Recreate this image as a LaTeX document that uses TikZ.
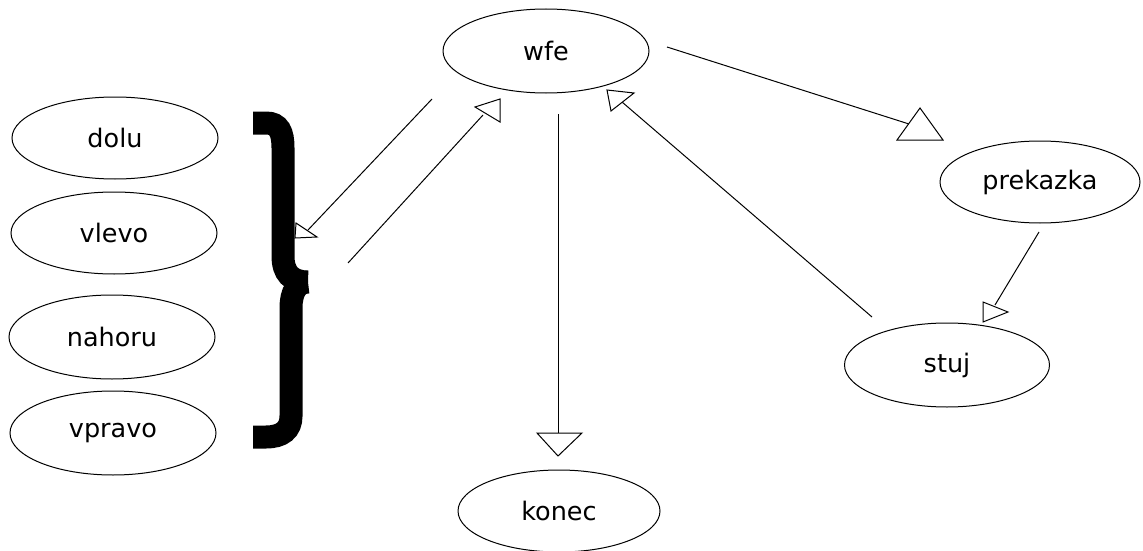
\documentclass[tikz,border=0pt]{standalone}
\usepackage{fontspec}
\setmainfont{DejaVu Sans}
\usetikzlibrary{shapes.geometric}
\begin{document}
\begin{tikzpicture}[x=1pt,y=-1pt,
  state/.style={draw=black,line width=1pt,ellipse,inner sep=0pt,
    font=\fontsize{25.5}{30}\selectfont},
  conn/.style={draw=black,line width=1pt},
  head/.style={draw=black,fill=white,line width=1pt,line join=miter},
  bracepart/.style={draw=black,line width=23pt,line cap=butt}]
\useasboundingbox (0,0) rectangle (1143,551);
\fill[white] (0,0) rectangle (1143,551);

% states
\node[state,minimum width=206pt,minimum height=84pt] (wfe) at (546,51) {wfe};
\node[state,minimum width=206pt,minimum height=82pt] (dolu) at (115,138) {dolu};
\node[state,minimum width=206pt,minimum height=82pt] (vlevo) at (114,233) {vlevo};
\node[state,minimum width=206pt,minimum height=84pt] (nahoru) at (112,337) {nahoru};
\node[state,minimum width=206pt,minimum height=84pt] (vpravo) at (113,433) {vpravo};
\node[state,minimum width=200pt,minimum height=82pt] (prekazka) at (1040,182) {prekazka};
\node[state,minimum width=205pt,minimum height=84pt] (stuj) at (947,365) {stuj};
\node[state,minimum width=202pt,minimum height=82pt] (konec) at (559,511) {konec};

% brace grouping the four direction states
\coordinate (brtip) at (308,282);
\draw[bracepart] (253,123) -- (266,123) .. controls (279,123) and (283,132) .. (283,148)
  -- (283,256) .. controls (283,273) and (291,282) .. (brtip);
\draw[bracepart] (brtip) .. controls (297,282) and (291,292) .. (291,308)
  -- (291,416) .. controls (291,430) and (282,437) .. (266,437) -- (253,437);

% connector end points
\coordinate (c1s) at (432,99);   \coordinate (c1e) at (308,230);
\coordinate (c2s) at (348,263);  \coordinate (c2e) at (483,115);
\coordinate (c3s) at (558,114);  \coordinate (c3e) at (558,433);
\coordinate (c4s) at (872,317);  \coordinate (c4e) at (622,102);
\coordinate (c5s) at (667,47);   \coordinate (c5e) at (909,124);
\coordinate (c6s) at (1039,232); \coordinate (c6e) at (995,305);

\draw[conn] (c1s) -- (c1e);
\draw[conn] (c2s) -- (c2e);
\draw[conn] (c3s) -- (c3e);
\draw[conn] (c4s) -- (c4e);
\draw[conn] (c5s) -- (c5e);
\draw[conn] (c6s) -- (c6e);

% open triangular arrowheads
\draw[head] (296,223) -- (295,238) -- (317,237) -- cycle;
\draw[head] (475,107) -- (500,99) -- (500,122) -- cycle;
\draw[head] (537,433) -- (582,433) -- (558,456) -- cycle;
\draw[head] (607,90) -- (634,93) -- (611,111) -- cycle;
\draw[head] (920,108) -- (897,140) -- (943,140) -- cycle;
\draw[head] (983,302) -- (983,322) -- (1008,312) -- cycle;
\end{tikzpicture}
\end{document}
